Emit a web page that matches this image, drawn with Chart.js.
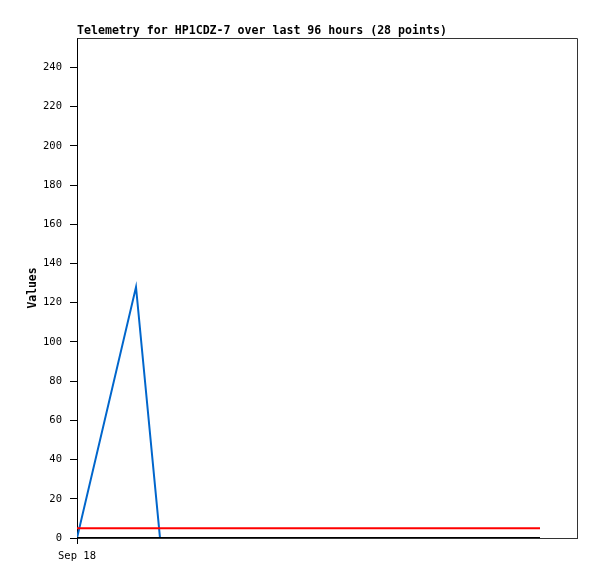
<!DOCTYPE html>
<html><head><meta charset="utf-8">
<script src="https://cdn.jsdelivr.net/npm/chart.js@4/dist/chart.umd.min.js"></script>
<style>html,body{margin:0;padding:0;background:#fff}#wrap{width:597px;height:579px}</style>
</head><body><div id="wrap"><canvas id="c" width="597" height="579"></canvas></div>
<script>
const titleText = "Telemetry for HP1CDZ-7 over last 96 hours (28 points)";
const yAxisLabel = "Values";
const xTickLabel = "Sep 18";
const hours = [0, 11.8, 16.6, 20.1, 23.5, 27.0, 30.4, 33.9, 37.3, 40.8, 44.2, 47.7, 51.1, 54.6, 58.0, 61.5, 64.9, 68.4, 71.8, 75.3, 78.7, 82.2, 85.6, 87.5, 89.0, 90.4, 91.5, 92.6];
const blueValues = [0, 128, 0, 0, 0, 0, 0, 0, 0, 0, 0, 0, 0, 0, 0, 0, 0, 0, 0, 0, 0, 0, 0, 0, 0, 0, 0, 0];
const redValues = [5, 5, 5, 5, 5, 5, 5, 5, 5, 5, 5, 5, 5, 5, 5, 5, 5, 5, 5, 5, 5, 5, 5, 5, 5, 5, 5, 5];
const blackValues = [0, 0, 0, 0, 0, 0, 0, 0, 0, 0, 0, 0, 0, 0, 0, 0, 0, 0, 0, 0, 0, 0, 0, 0, 0, 0, 0, 0];
const yTicks = [0, 20, 40, 60, 80, 100, 120, 140, 160, 180, 200, 220, 240];

const mono = "'DejaVu Sans Mono', 'Liberation Mono', monospace";
const pts = arr => arr.map((v, i) => ({x: hours[i], y: v}));

const framePlugin = {
  id: 'frame',
  afterDraw(chart) {
    const {ctx, chartArea: a} = chart;
    ctx.save();
    ctx.strokeStyle = '#333';
    ctx.lineWidth = 1;
    ctx.beginPath();
    ctx.moveTo(a.left + 0.5, a.top + 0.5);
    ctx.lineTo(a.right + 0.5, a.top + 0.5);
    ctx.lineTo(a.right + 0.5, a.bottom + 0.5);
    ctx.stroke();
    ctx.fillStyle = '#000';
    ctx.font = "bold 11.6px " + mono;
    ctx.textAlign = 'left';
    ctx.textBaseline = 'middle';
    ctx.fillText(titleText, a.left, 31);
    ctx.restore();
  }
};

new Chart(document.getElementById('c'), {
  type: 'line',
  data: {
    datasets: [
      {label: 'ch3', data: pts(blackValues), borderColor: '#000000', borderWidth: 2, pointRadius: 0, tension: 0, order: 0},
      {label: 'ch2', data: pts(redValues), borderColor: '#ff0000', borderWidth: 2, pointRadius: 0, tension: 0, order: 1},
      {label: 'ch1', data: pts(blueValues), borderColor: '#0066cc', borderWidth: 2, pointRadius: 0, tension: 0, order: 2}
    ]
  },
  plugins: [framePlugin],
  options: {
    responsive: false,
    animation: false,
    devicePixelRatio: 1,
    layout: {padding: {left: 20, top: 38, right: 20, bottom: 0}},
    plugins: {legend: {display: false}, title: {display: false}, tooltip: {enabled: false}},
    scales: {
      x: {
        type: 'linear',
        min: 0, max: 100,
        afterBuildTicks: s => { s.ticks = [{value: 0}]; },
        afterFit: s => { s.height = 41; },
        ticks: {color: '#000', font: {family: mono, size: 10.5}, padding: 6, maxRotation: 0, callback: () => xTickLabel},
        grid: {drawOnChartArea: false, drawTicks: true, tickLength: 6, color: '#000'},
        border: {color: '#333', width: 1}
      },
      y: {
        min: 0, max: 255,
        afterBuildTicks: s => { s.ticks = yTicks.map(v => ({value: v})); },
        afterFit: s => { s.width = 57; },
        ticks: {color: '#000', font: {family: mono, size: 10.5}, padding: 8},
        grid: {drawOnChartArea: false, drawTicks: true, tickLength: 7, color: '#000'},
        border: {color: '#000', width: 1},
        title: {display: true, text: yAxisLabel, color: '#000', font: {family: mono, size: 11.4, weight: 'bold'}, padding: {top: 6, bottom: 0}}
      }
    }
  }
});
</script></body></html>
